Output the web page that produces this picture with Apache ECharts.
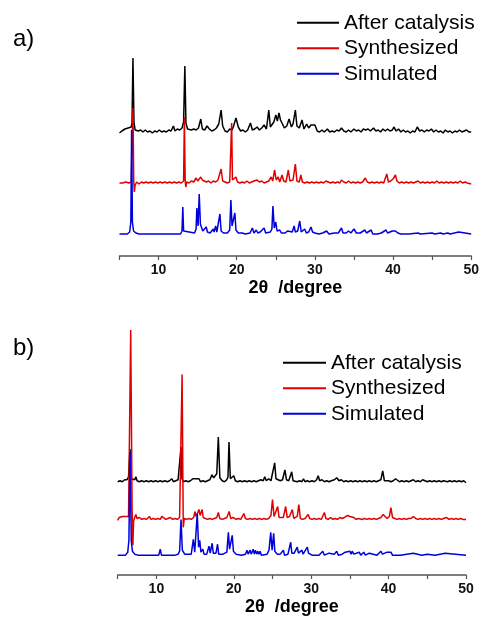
<!DOCTYPE html>
<html>
<head>
<meta charset="utf-8">
<script src="https://cdn.jsdelivr.net/npm/echarts@6/dist/echarts.min.js"></script>
<style>
  html, body { margin: 0; padding: 0; background: #fff; }
  #chart { width: 482px; height: 617px; }
</style>
</head>
<body>
<div id="chart"></div>
<script>
// legend names / series colours
const seriesNames = ["After catalysis", "Synthesized", "Simulated"];
const xTicks = [10, 20, 30, 40, 50];

// vertical offsets of each pattern (same units as intensities)
const offsetsA = [124, 73, 22];
const offsetsB = [94, 56, 20];

// panel a) -- [2theta, intensity]
const afterA = [[5.0,-1],[5.3,1],[5.5,0],[5.7,3],[5.9,2],[6.1,4],[6.3,3],[6.5,5],[6.6,9],[6.72,74],[6.85,10],[7.0,2],[7.2,4],[7.4,1],[7.7,2],[8.0,0],[8.3,2],[8.6,0],[8.9,1],[9.2,-1],[9.5,1],[9.8,0],[10.1,2],[10.4,0],[10.7,1],[11.0,0],[11.3,2],[11.6,1],[11.9,6],[12.1,1],[12.4,3],[12.7,2],[13.0,4],[13.2,10],[13.36,66],[13.5,9],[13.7,3],[13.9,4],[14.2,2],[14.5,3],[14.8,2],[15.1,4],[15.4,13],[15.6,3],[15.9,2],[16.2,6],[16.5,3],[16.8,1],[17.1,2],[17.4,4],[17.7,8],[18.0,22],[18.2,6],[18.5,1],[18.8,0],[19.1,3],[19.4,2],[19.6,6],[19.9,14],[20.2,5],[20.5,1],[20.8,2],[21.1,0],[21.4,2],[21.75,9],[22.0,2],[22.3,3],[22.6,5],[22.9,2],[23.2,4],[23.5,7],[23.8,3],[24.1,22],[24.3,5],[24.5,3],[24.75,10],[25.0,17],[25.2,11],[25.4,19],[25.6,12],[25.8,12],[26.1,4],[26.4,6],[26.7,13],[27.0,5],[27.2,8],[27.5,22],[27.7,6],[28.0,4],[28.35,12],[28.6,3],[28.95,8],[29.2,4],[29.5,7],[29.7,5],[30.0,7],[30.3,1],[30.6,0],[30.9,2],[31.2,0],[31.6,3],[31.9,0],[32.2,1],[32.5,0],[32.8,2],[33.1,1],[33.4,4],[33.7,1],[34.0,0],[34.3,2],[34.6,0],[35.0,3],[35.3,1],[35.6,2],[35.9,0],[36.2,3],[36.5,2],[36.8,3],[37.1,1],[37.5,4],[37.8,1],[38.1,2],[38.4,0],[38.7,3],[39.0,1],[39.3,3],[39.6,1],[39.9,2],[40.1,5],[40.4,1],[40.7,3],[41.0,0],[41.3,2],[41.6,0],[41.9,1],[42.2,-1],[42.5,1],[42.8,0],[43.1,5],[43.4,1],[43.7,2],[44.0,0],[44.3,2],[44.6,1],[44.9,3],[45.2,0],[45.5,2],[45.8,0],[46.1,1],[46.4,-1],[46.7,2],[47.0,0],[47.3,1],[47.6,-1],[47.9,1],[48.2,0],[48.5,2],[48.8,0],[49.1,1],[49.4,2],[49.7,0],[50.0,0]];

const synthA = [[5.0,0],[5.4,0],[5.8,1],[6.2,0],[6.5,1],[6.62,3],[6.72,75],[6.82,2],[6.9,-9],[7.0,-2],[7.2,1],[7.5,-1],[7.8,1],[8.1,0],[8.4,1],[8.7,0],[9.0,1],[9.3,0],[9.6,1],[9.9,0],[10.2,1],[10.5,0],[10.8,1],[11.1,0],[11.4,1],[11.7,0],[12.0,1],[12.3,0],[12.6,1],[12.9,0],[13.2,2],[13.3,66],[13.4,3],[13.48,-4],[13.6,1],[13.9,0],[14.2,2],[14.5,1],[14.8,5],[15.0,2],[15.4,6],[15.6,3],[15.8,4],[16.1,1],[16.4,2],[16.7,0],[17.0,2],[17.3,1],[17.6,3],[17.8,2],[18.0,14],[18.2,2],[18.5,1],[18.8,0],[19.1,1],[19.25,3],[19.35,60],[19.45,3],[19.6,2],[19.9,6],[20.1,1],[20.4,0],[20.7,1],[21.0,0],[21.3,2],[21.6,0],[21.9,1],[22.2,2],[22.6,3],[22.9,1],[23.2,2],[23.5,0],[23.8,1],[24.1,2],[24.4,6],[24.6,2],[24.85,13],[25.05,3],[25.3,6],[25.5,1],[25.8,8],[26.0,2],[26.3,1],[26.6,13],[26.8,2],[27.0,1],[27.2,3],[27.5,19],[27.7,2],[28.0,1],[28.2,8],[28.4,1],[28.7,0],[29.0,1],[29.3,0],[29.6,1],[29.9,0],[30.2,1],[30.5,0],[30.8,1],[31.1,0],[31.4,2],[31.7,1],[32.0,0],[32.3,1],[32.6,0],[32.9,1],[33.2,0],[33.4,3],[33.7,1],[34.0,0],[34.3,2],[34.6,0],[34.9,1],[35.2,0],[35.5,1],[35.8,0],[36.1,1],[36.45,5],[36.7,1],[37.0,0],[37.3,1],[37.6,0],[37.9,1],[38.2,0],[38.5,1],[38.8,0],[39.0,2],[39.2,9],[39.4,1],[39.7,2],[40.0,4],[40.3,8],[40.5,2],[40.8,0],[41.1,1],[41.4,0],[41.7,1],[42.0,0],[42.3,1],[42.6,0],[42.9,1],[43.2,2],[43.5,0],[43.8,1],[44.1,0],[44.4,1],[44.7,0],[45.0,1],[45.3,0],[45.6,2],[45.9,0],[46.2,1],[46.5,0],[46.8,1],[47.1,0],[47.4,1],[47.7,0],[48.0,1],[48.3,0],[48.6,2],[48.9,0],[49.2,1],[49.5,0],[50.0,-1]];

const simA = [[5.0,0],[6.0,0],[6.3,2],[6.45,12],[6.55,104],[6.65,12],[6.8,3],[7.1,1],[7.5,0],[10.4,0],[10.55,2],[10.7,0],[12.8,0],[13.0,3],[13.1,27],[13.2,3],[13.4,1],[14.6,1],[14.8,5],[14.9,26],[15.05,8],[15.2,40],[15.35,10],[15.5,12],[15.65,3],[15.9,2],[16.1,7],[16.25,2],[16.6,1],[16.8,3],[17.0,5],[17.1,2],[17.3,8],[17.45,2],[17.7,3],[17.85,20],[18.0,3],[18.3,1],[18.8,1],[19.1,4],[19.25,34],[19.4,8],[19.6,6],[19.76,21],[19.9,4],[20.2,1],[20.7,1],[20.9,2],[21.1,0],[21.7,1],[22.0,6],[22.2,1],[22.5,4],[22.7,1],[23.0,2],[23.2,1],[23.5,6],[23.7,1],[24.3,2],[24.5,5],[24.63,28],[24.8,6],[25.0,12],[25.15,3],[25.5,4],[25.7,1],[26.2,1],[26.5,3],[26.7,1],[27.1,2],[27.34,8],[27.5,2],[27.8,3],[28.06,13],[28.25,2],[28.7,5],[28.9,1],[29.2,2],[29.5,7],[29.7,2],[30.0,1],[30.5,0],[31.0,1],[31.5,3],[31.8,0],[32.5,1],[33.0,1],[33.4,6],[33.6,1],[34.0,1],[34.3,3],[34.6,1],[35.0,5],[35.3,1],[35.8,1],[36.4,4],[36.6,1],[37.2,4],[37.4,0],[38.0,0],[38.5,1],[39.1,4],[39.3,1],[39.9,3],[40.1,2],[40.3,3],[40.6,1],[41.0,0],[42.0,0],[43.2,1],[43.5,0],[45.0,1],[45.3,0],[46.1,1],[46.4,0],[47.0,1],[47.3,0],[48.4,2],[48.6,0],[50.0,0]];

// panel b)
const afterB = [[5.0,0],[5.3,1],[5.6,0],[5.9,2],[6.2,2],[6.4,5],[6.59,33],[6.75,3],[6.95,1],[7.2,2],[7.35,5],[7.5,1],[7.8,0],[8.1,1],[8.4,0],[8.7,1],[9.0,0],[9.3,1],[9.6,0],[9.9,1],[10.2,0],[10.5,1],[10.8,0],[11.1,1],[11.4,0],[11.7,1],[12.0,3],[12.2,0],[12.5,1],[12.8,2],[13.05,4],[13.18,35],[13.3,3],[13.5,0],[13.8,1],[14.1,0],[14.4,1],[14.7,3],[14.9,2],[15.1,3],[15.3,2],[15.5,3],[15.7,0],[16.0,1],[16.3,0],[16.6,1],[16.9,2],[17.18,7],[17.4,4],[17.6,3],[17.8,8],[18.0,45],[18.2,4],[18.5,1],[18.8,0],[19.1,2],[19.25,5],[19.38,40],[19.55,3],[19.8,2],[20.0,6],[20.2,1],[20.5,0],[20.8,1],[21.1,0],[21.4,1],[21.7,0],[22.0,1],[22.3,0],[22.6,1],[22.9,0],[23.2,1],[23.5,2],[23.8,1],[24.0,5],[24.2,1],[24.5,3],[24.8,1],[25.0,3],[25.28,19],[25.45,3],[25.7,2],[26.0,1],[26.3,2],[26.6,12],[26.8,2],[27.1,1],[27.48,10],[27.65,1],[27.9,2],[28.2,0],[28.5,1],[28.8,0],[29.0,3],[29.2,0],[29.5,1],[29.8,0],[30.1,1],[30.4,0],[30.7,2],[30.9,6],[31.1,1],[31.4,2],[31.7,0],[32.0,1],[32.3,0],[32.6,1],[33.0,2],[33.3,4],[33.6,1],[33.9,2],[34.2,0],[34.5,1],[34.8,0],[35.1,1],[35.4,0],[35.7,1],[36.0,0],[36.3,1],[36.6,0],[36.9,1],[37.2,0],[37.5,1],[37.8,0],[38.1,1],[38.4,0],[38.7,1],[39.0,2],[39.24,11],[39.45,1],[39.7,0],[40.0,1],[40.3,0],[40.6,1],[40.9,3],[41.1,1],[41.4,0],[41.7,1],[42.0,0],[42.3,1],[42.6,0],[42.9,1],[43.2,2],[43.5,0],[43.8,1],[44.1,0],[44.4,2],[44.7,1],[45.0,0],[45.3,1],[45.6,0],[45.9,1],[46.2,0],[46.5,1],[46.8,0],[47.1,1],[47.3,3],[47.6,0],[47.9,1],[48.2,0],[48.5,1],[48.8,0],[49.1,1],[49.4,0],[49.7,1],[50.0,-1]];

const synthB = [[5.0,-1],[5.2,2],[5.4,0],[5.6,3],[5.8,1],[6.0,3],[6.2,1],[6.4,3],[6.6,5],[6.68,191],[6.78,191],[6.86,10],[6.96,-26],[7.05,-2],[7.2,2],[7.35,5],[7.5,1],[7.8,2],[8.1,0],[8.4,1],[8.7,0],[9.1,3],[9.3,0],[9.6,1],[9.9,0],[10.2,1],[10.5,0],[10.7,3],[10.9,1],[11.2,0],[11.5,1],[11.8,2],[12.1,0],[12.4,1],[12.7,0],[13.0,2],[13.25,4],[13.32,146],[13.4,146],[13.47,-8],[13.6,1],[13.9,0],[14.2,1],[14.5,0],[14.8,2],[15.0,8],[15.1,3],[15.3,6],[15.5,10],[15.65,4],[15.9,10],[16.05,2],[16.3,1],[16.6,0],[16.9,1],[17.2,0],[17.5,1],[17.8,2],[18.0,7],[18.2,1],[18.5,0],[18.8,1],[19.1,2],[19.4,8],[19.6,1],[19.9,2],[20.1,4],[20.3,0],[20.6,1],[20.9,0],[21.1,2],[21.3,6],[21.5,1],[21.8,0],[22.1,1],[22.4,0],[22.7,1],[23.0,0],[23.3,1],[23.6,0],[23.9,1],[24.2,0],[24.5,1],[24.8,4],[25.0,20],[25.2,3],[25.45,4],[25.67,13],[25.85,2],[26.1,1],[26.4,2],[26.7,13],[26.9,2],[27.2,3],[27.56,10],[27.75,1],[28.0,2],[28.2,3],[28.4,15],[28.6,1],[28.9,0],[29.2,1],[29.6,5],[29.8,1],[30.1,0],[30.4,1],[30.7,0],[31.0,1],[31.3,0],[31.7,7],[31.9,1],[32.2,0],[32.5,2],[32.8,0],[33.1,1],[33.4,0],[33.7,2],[34.0,1],[34.3,2],[34.7,4],[35.0,3],[35.2,1],[35.5,2],[35.8,0],[36.1,1],[36.3,2],[36.6,0],[36.9,1],[37.2,0],[37.5,1],[37.8,0],[38.1,1],[38.4,0],[38.7,1],[39.0,2],[39.3,5],[39.5,3],[39.8,1],[40.1,3],[40.3,12],[40.5,2],[40.8,1],[41.1,0],[41.4,1],[41.7,0],[42.0,1],[42.3,0],[42.6,1],[42.9,1],[43.2,3],[43.5,1],[43.8,0],[44.1,1],[44.4,0],[44.7,1],[45.0,0],[45.3,1],[45.6,0],[45.9,1],[46.2,0],[46.5,1],[46.8,0],[47.1,1],[47.5,2],[47.8,0],[48.1,1],[48.4,0],[48.7,1],[49.0,0],[49.3,1],[49.6,0],[50.0,0]];

const simB = [[5.0,0],[6.0,0],[6.3,3],[6.45,15],[6.6,104],[6.75,15],[6.9,4],[7.2,1],[7.6,0],[10.3,0],[10.5,6],[10.65,0],[11.2,0],[11.35,1],[11.5,0],[12.4,0],[12.6,2],[12.8,1],[13.0,4],[13.18,36],[13.35,5],[13.5,5],[13.65,1],[14.5,1],[14.77,16],[14.95,3],[15.1,5],[15.28,42],[15.45,8],[15.6,15],[15.75,3],[16.0,6],[16.15,1],[16.5,1],[16.8,9],[16.95,2],[17.2,12],[17.35,2],[17.7,2],[17.9,11],[18.05,1],[18.6,1],[19.1,3],[19.3,23],[19.45,6],[19.65,8],[19.8,20],[19.95,4],[20.3,1],[21.0,0],[21.5,1],[21.7,5],[21.85,1],[22.1,5],[22.25,1],[22.5,6],[22.65,1],[22.8,5],[22.95,1],[23.1,4],[23.25,1],[23.4,4],[23.55,0],[24.3,1],[24.55,5],[24.77,23],[24.95,5],[25.15,22],[25.3,4],[25.45,6],[25.6,1],[26.0,1],[26.4,5],[26.55,0],[27.0,1],[27.35,13],[27.5,2],[27.8,2],[28.2,8],[28.35,2],[28.6,2],[28.8,5],[28.95,1],[29.2,2],[29.5,8],[29.65,2],[29.9,4],[30.1,0],[31.0,0],[31.5,4],[31.7,0],[32.3,2],[32.5,0],[33.0,1],[33.3,4],[33.5,0],[34.0,1],[34.4,3],[34.6,1],[35.0,4],[35.15,1],[35.3,4],[35.5,1],[36.2,3],[36.4,0],[36.8,3],[37.0,0],[37.5,2],[37.7,0],[38.5,0],[39.0,4],[39.2,1],[39.8,3],[40.0,1],[40.3,3],[40.5,0],[41.5,0],[43.2,2],[43.4,0],[44.3,0],[45.0,1],[45.2,0],[46.0,0],[47.3,2],[47.5,0],[50.0,0]];

const colors = ["#000000", "#e00000", "#0000dd"];
const FONT = "'Liberation Sans', Arial, sans-serif";

function shift(arr, off) {
  return arr.map((p) => [p[0], p[1] + off]);
}

function makeX(gridIndex) {
  return {
    gridIndex: gridIndex,
    type: "value",
    min: 5,
    max: 50,
    interval: 5,
    name: "2θ  /degree",
    nameLocation: "middle",
    nameGap: 23,
    nameTextStyle: { fontFamily: FONT, fontSize: 18, fontWeight: "bold", color: "#000" },
    axisLine: { onZero: false, lineStyle: { color: "#555", width: 1.5 } },
    axisTick: { show: true, length: 4, lineStyle: { color: "#555", width: 1.2 } },
    axisLabel: {
      margin: 7,
      fontFamily: FONT,
      fontSize: 14,
      fontWeight: "bold",
      color: "#111",
      formatter: (v) => (xTicks.indexOf(v) >= 0 ? String(v) : ""),
    },
    splitLine: { show: false },
  };
}

function makeLegend(left, top, width) {
  return {
    data: seriesNames,
    orient: "vertical",
    left: left,
    top: top,
    padding: 0,
    itemGap: 0,
    itemWidth: width,
    itemHeight: 2,
    icon: "rect",
    textStyle: { fontFamily: FONT, fontSize: 21, color: "#000", lineHeight: 25.5 },
  };
}

const panels = [
  { data: [afterA, synthA, simA], offsets: offsetsA },
  { data: [afterB, synthB, simB], offsets: offsetsB },
];

const series = [];
panels.forEach((p, gi) => {
  p.data.forEach((d, i) => {
    series.push({
      name: seriesNames[i],
      type: "line",
      xAxisIndex: gi,
      yAxisIndex: gi,
      showSymbol: false,
      lineStyle: { width: 1.5, color: colors[i] },
      itemStyle: { color: colors[i] },
      data: shift(d, p.offsets[i]),
    });
  });
});

const chart = echarts.init(document.getElementById("chart"), null, { renderer: "canvas" });
const option = {
  animation: false,
  backgroundColor: "#fff",
  title: [
    { text: "a)", left: 13, top: 27, padding: 0, textStyle: { fontFamily: FONT, fontSize: 24, fontWeight: "normal", color: "#000" } },
    { text: "b)", left: 13, top: 336, padding: 0, textStyle: { fontFamily: FONT, fontSize: 24, fontWeight: "normal", color: "#000" } },
  ],
  legend: [makeLegend(297, 10, 42), makeLegend(283, 350, 43)],
  grid: [
    { left: 119.5, right: 8.7, top: 40, height: 216 },
    { left: 117.7, right: 16, top: 317, height: 260 },
  ],
  xAxis: [makeX(0), makeX(1)],
  yAxis: [
    { gridIndex: 0, type: "value", min: 0, max: 216, show: false },
    { gridIndex: 1, type: "value", min: 0, max: 260, show: false },
  ],
  series: series,
};
chart.setOption(option);
</script>
</body>
</html>
